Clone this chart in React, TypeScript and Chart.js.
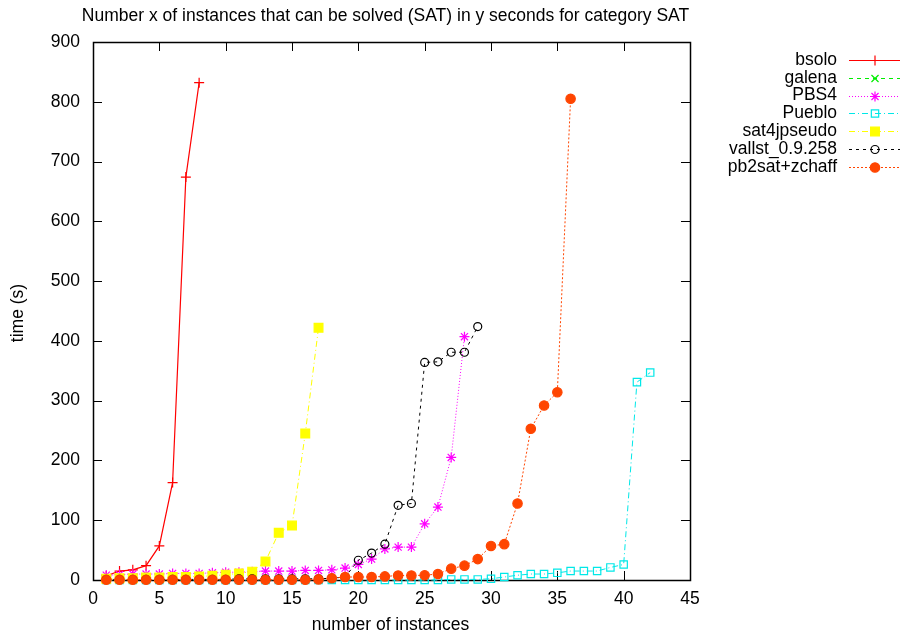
import React, { useEffect, useRef } from "react";
import { Chart, registerables } from "chart.js";
import { drawPoint } from "chart.js/helpers";

Chart.register(...registerables);

const TITLE = "Number x of instances that can be solved (SAT) in y seconds for category SAT";
const X_TITLE = "number of instances";
const Y_TITLE = "time (s)";

const xTicks = [0, 5, 10, 15, 20, 25, 30, 35, 40, 45];
const yTicks = [0, 100, 200, 300, 400, 500, 600, 700, 800, 900];

const seriesNames = ["bsolo", "galena", "PBS4", "Pueblo", "sat4jpseudo", "vallst_0.9.258", "pb2sat+zchaff"];

const bsolo = [7, 15, 17, 24, 57, 163, 674, 832];
const galena: number[] = [];
const pbs4 = [8, 9, 10, 10, 10, 11, 11, 11, 12, 13, 13, 14, 15, 15, 15, 16, 16, 17, 20, 26, 35, 52, 55, 55, 94, 122, 205, 407];
const pueblo = [0, 0, 0, 0, 0, 0, 0, 0, 0, 0, 0, 0, 0, 0, 0, 0, 0, 0, 0, 0, 0, 0, 0, 0, 0, 0, 1, 1, 1, 2, 5, 8, 10, 10, 12, 15, 15, 15, 21, 26, 331, 347];
const sat4jpseudo = [2, 3, 3, 4, 4, 5, 5, 6, 7, 9, 11, 14, 31, 79, 91, 245, 422];
const vallst = [1, 1, 1, 1, 1, 1, 1, 1, 1, 1, 2, 2, 2, 2, 2, 2, 2, 3, 5, 33, 45, 60, 125, 128, 364, 365, 381, 381, 424];
const pb2sat = [0.5, 0.5, 0.5, 0.5, 0.5, 0.5, 0.5, 0.5, 0.5, 0.5, 0.5, 0.5, 0.5, 0.5, 0.5, 0.5, 1, 3, 5, 5, 5, 6, 7.5, 7.5, 8, 10, 19, 24, 35, 57, 60, 128, 253, 292, 314, 805];

const seriesValues = [bsolo, galena, pbs4, pueblo, sat4jpseudo, vallst, pb2sat];

const styles = [
  { color: "#ff0000", dash: [] as number[], point: "cross", radius: 5, fill: false, width: 1.2 },
  { color: "#00ee00", dash: [4, 4], point: "crossRot", radius: 5, fill: false, width: 1 },
  { color: "#ff00ff", dash: [1, 2], point: "star", radius: 5, fill: false, width: 1 },
  { color: "#00e8e8", dash: [6, 3, 1, 3], point: "rect", radius: 5.2, fill: false, width: 1 },
  { color: "#ffff00", dash: [6, 3, 1, 3], point: "rect", radius: 6.2, fill: true, width: 1 },
  { color: "#000000", dash: [3, 4], point: "circle", radius: 4, fill: false, width: 1 },
  { color: "#ff4500", dash: [2, 2], point: "circle", radius: 4.7, fill: true, width: 1 },
];

const FONT = '"Liberation Sans", Arial, sans-serif';
const FS = 17.5;

const gnuplotPlugin = {
  id: "gnuplotDecor",
  beforeDraw(chart: any) {
    const ctx = chart.ctx;
    ctx.save();
    ctx.fillStyle = "#ffffff";
    ctx.fillRect(0, 0, chart.width, chart.height);
    ctx.restore();
  },
  beforeDatasetsDraw(chart: any) {
    const ctx = chart.ctx;
    const { left, right, top, bottom } = chart.chartArea;
    const xs = chart.scales.x;
    const ys = chart.scales.y;
    ctx.save();
    ctx.strokeStyle = "#000000";
    ctx.lineWidth = 1;
    ctx.beginPath();
    const tl = 9;
    xTicks.forEach((v) => {
      const px = Math.round(xs.getPixelForValue(v)) + 0.5;
      ctx.moveTo(px, bottom);
      ctx.lineTo(px, bottom - tl);
      ctx.moveTo(px, top);
      ctx.lineTo(px, top + tl);
    });
    yTicks.forEach((v) => {
      const py = Math.round(ys.getPixelForValue(v)) + 0.5;
      ctx.moveTo(left, py);
      ctx.lineTo(left + tl, py);
      ctx.moveTo(right, py);
      ctx.lineTo(right - tl, py);
    });
    ctx.stroke();
    ctx.lineWidth = 1.5;
    ctx.strokeRect(Math.round(left) + 0.5, Math.round(top) + 0.5, Math.round(right - left), Math.round(bottom - top));
    ctx.restore();
  },
  afterDraw(chart: any) {
    const ctx = chart.ctx;
    const { left, right, top, bottom } = chart.chartArea;
    ctx.save();
    ctx.fillStyle = "#000000";
    ctx.font = `${FS}px ${FONT}`;
    ctx.textAlign = "center";
    ctx.textBaseline = "middle";
    ctx.fillText(TITLE, (left + right) / 2 - 6, 16);
    ctx.fillText(X_TITLE, (left + right) / 2 - 1, 625);
    ctx.save();
    ctx.translate(18, (top + bottom) / 2 + 2);
    ctx.rotate(-Math.PI / 2);
    ctx.fillText(Y_TITLE, 0, 0);
    ctx.restore();

    // legend
    seriesNames.forEach((name, i) => {
      const y = 60 + i * 17.8;
      const st = styles[i];
      ctx.fillStyle = "#000000";
      ctx.textAlign = "right";
      ctx.fillText(name, 837, y);
      ctx.save();
      ctx.strokeStyle = st.color;
      ctx.lineWidth = st.width;
      ctx.setLineDash(st.dash);
      ctx.beginPath();
      ctx.moveTo(849, Math.round(y) + 0.5);
      ctx.lineTo(900, Math.round(y) + 0.5);
      ctx.stroke();
      ctx.setLineDash([]);
      ctx.fillStyle = st.fill ? st.color : "rgba(0,0,0,0)";
      ctx.strokeStyle = st.color;
      ctx.lineWidth = 1.2;
      drawPoint(ctx, { pointStyle: st.point, radius: st.radius, rotation: 0, borderWidth: 1.2 } as any, 875, Math.round(y) + 0.5);
      ctx.restore();
    });
    ctx.restore();
  },
};

export default function App() {
  const canvasRef = useRef<HTMLCanvasElement | null>(null);

  useEffect(() => {
    document.body.style.margin = "0";
    const canvas = canvasRef.current;
    if (!canvas) return;

    const datasets = seriesValues.map((vals, i) => ({
      label: seriesNames[i],
      data: vals.map((v, j) => ({ x: j + 1, y: v })),
      borderColor: styles[i].color,
      backgroundColor: styles[i].fill ? styles[i].color : "rgba(0,0,0,0)",
      pointBackgroundColor: styles[i].fill ? styles[i].color : "rgba(0,0,0,0)",
      pointBorderColor: styles[i].color,
      borderWidth: styles[i].width,
      borderDash: styles[i].dash,
      pointStyle: styles[i].point,
      pointRadius: styles[i].radius,
      pointBorderWidth: 1.2,
      tension: 0,
      fill: false,
      clip: false,
      order: seriesNames.length - i,
    }));

    const chart = new Chart(canvas, {
      type: "line",
      data: { datasets },
      options: {
        animation: false,
        responsive: false,
        devicePixelRatio: 1,
        layout: { padding: { left: 0, top: 42, right: 212, bottom: 0 } },
        plugins: {
          legend: { display: false },
          title: { display: false },
          tooltip: { enabled: false },
        },
        scales: {
          x: {
            type: "linear",
            min: 0,
            max: 45,
            afterFit: (s: any) => {
              s.height = 59;
            },
            afterBuildTicks: (s: any) => {
              s.ticks = xTicks.map((v) => ({ value: v }));
            },
            grid: { display: false, drawTicks: false },
            border: { display: false },
            ticks: {
              padding: 9,
              color: "#000000",
              font: { family: FONT, size: FS },
              maxRotation: 0,
              autoSkip: false,
            },
          },
          y: {
            type: "linear",
            min: 0,
            max: 900,
            afterFit: (s: any) => {
              s.width = 93;
            },
            afterBuildTicks: (s: any) => {
              s.ticks = yTicks.map((v) => ({ value: v }));
            },
            grid: { display: false, drawTicks: false },
            border: { display: false },
            ticks: {
              padding: 13,
              color: "#000000",
              font: { family: FONT, size: FS },
              autoSkip: false,
            },
          },
        },
      },
      plugins: [gnuplotPlugin],
    });

    return () => {
      chart.destroy();
    };
  }, []);

  return (
    <div style={{ width: 902, height: 639 }}>
      <canvas ref={canvasRef} width={902} height={639} style={{ display: "block", width: 902, height: 639 }} />
    </div>
  );
}
